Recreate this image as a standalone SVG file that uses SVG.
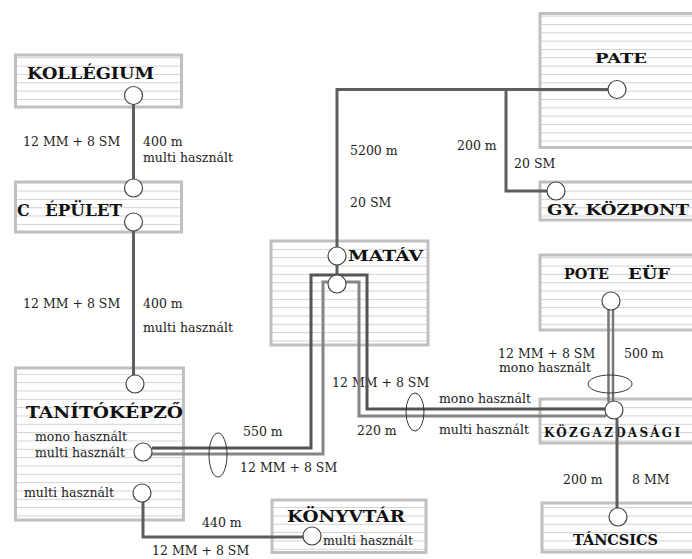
<svg xmlns="http://www.w3.org/2000/svg" width="692" height="559" viewBox="0 0 692 559">
<style>
.box{fill:url(#stripes);stroke:#c0c0c0;stroke-width:3}
.title{font-family:"DejaVu Serif","Liberation Serif",serif;font-weight:bold;fill:#111}
.lbl{font-family:"DejaVu Serif","Liberation Serif",serif;font-size:12.5px;fill:#222}
.c1{fill:none;stroke:#5e5e5e;stroke-width:3}
.outer{fill:none;stroke:#555;stroke-width:3}
.inner{fill:none;stroke:#858585;stroke-width:3}
.dbl{fill:none;stroke:#777;stroke-width:2.5}
.ell{fill:none;stroke:#333;stroke-width:1}
.port{fill:#fff;stroke:#444;stroke-width:1.2}
</style>
<defs>
<pattern id="stripes" patternUnits="userSpaceOnUse" x="0" y="7.3" width="10" height="8.33">
<rect width="10" height="8.33" fill="#fff"/>
<line x1="0" y1="0.5" x2="10" y2="0.5" stroke="#d2d2d2" stroke-width="1"/>
</pattern>
</defs>
<rect width="692" height="559" fill="#fff"/>

<g id="kollegium">
<rect class="box" x="15.5" y="55" width="166" height="52"/>
<text class="title" x="27" y="79" font-size="16" textLength="127" lengthAdjust="spacingAndGlyphs">KOLLÉGIUM</text>
</g>
<g id="c-epulet">
<rect class="box" x="15.5" y="182" width="166" height="50"/>
<text class="title" x="17" y="215.5" font-size="16">C</text>
<text class="title" x="45" y="215.5" font-size="16" textLength="77" lengthAdjust="spacingAndGlyphs">ÉPÜLET</text>
</g>
<g id="tanitokepzo">
<rect class="box" x="15.5" y="368" width="168" height="152"/>
<text class="title" x="26" y="418" font-size="16" textLength="157" lengthAdjust="spacingAndGlyphs">TANÍTÓKÉPZŐ</text>
<text class="lbl" x="35" y="441">mono használt</text>
<text class="lbl" x="35" y="457">multi használt</text>
<text class="lbl" x="24" y="497">multi használt</text>
</g>
<g id="matav">
<rect class="box" x="271" y="241" width="157" height="104"/>
<text class="title" x="348" y="261" font-size="15" textLength="75" lengthAdjust="spacingAndGlyphs">MATÁV</text>
</g>
<g id="pate">
<rect class="box" x="540" y="13.5" width="160" height="134"/>
<text class="title" x="595" y="63" font-size="13" textLength="52" lengthAdjust="spacingAndGlyphs">PATE</text>
</g>
<g id="gy-kozpont">
<rect class="box" x="540" y="182" width="160" height="38"/>
<text class="title" x="547" y="215" font-size="14" textLength="142" lengthAdjust="spacingAndGlyphs">GY. KÖZPONT</text>
</g>
<g id="pote-euf">
<rect class="box" x="540" y="255" width="160" height="75"/>
<text class="title" x="564" y="279" font-size="14" textLength="45" lengthAdjust="spacingAndGlyphs">POTE</text>
<text class="title" x="628" y="279" font-size="14" textLength="42" lengthAdjust="spacingAndGlyphs">EÜF</text>
</g>
<g id="kozgazdasagi">
<rect class="box" x="540" y="399" width="160" height="44"/>
<text class="title" x="544" y="437" font-size="12" textLength="136">KÖZGAZDASÁGI</text>
</g>
<g id="konyvtar">
<rect class="box" x="272" y="500" width="154" height="52.5"/>
<text class="title" x="287" y="522" font-size="16" textLength="118" lengthAdjust="spacingAndGlyphs">KÖNYVTÁR</text>
<text class="lbl" x="323" y="545">multi használt</text>
</g>
<g id="tancsics">
<rect class="box" x="542" y="503" width="160" height="49"/>
<text class="title" x="573" y="545" font-size="14" textLength="85" lengthAdjust="spacingAndGlyphs">TÁNCSICS</text>
</g>

<g id="connectors">
<g id="connector-labels">
<text class="lbl" x="23" y="146">12 MM + 8 SM</text>
<text class="lbl" x="143" y="146">400 m</text>
<text class="lbl" x="143" y="162">multi használt</text>
<text class="lbl" x="23" y="308">12 MM + 8 SM</text>
<text class="lbl" x="143" y="308">400 m</text>
<text class="lbl" x="143" y="332">multi használt</text>
<text class="lbl" x="350" y="155">5200 m</text>
<text class="lbl" x="350" y="207">20 SM</text>
<text class="lbl" x="457" y="150">200 m</text>
<text class="lbl" x="514" y="168">20 SM</text>
<text class="lbl" x="498" y="358">12 MM + 8 SM</text>
<text class="lbl" x="499" y="372">mono használt</text>
<text class="lbl" x="624" y="358">500 m</text>
<text class="lbl" x="332" y="387">12 MM + 8 SM</text>
<text class="lbl" x="439" y="403">mono használt</text>
<text class="lbl" x="357" y="435">220 m</text>
<text class="lbl" x="439" y="434">multi használt</text>
<text class="lbl" x="243" y="436">550 m</text>
<text class="lbl" x="240" y="472">12 MM + 8 SM</text>
<text class="lbl" x="202" y="527">440 m</text>
<text class="lbl" x="152" y="555">12 MM + 8 SM</text>
<text class="lbl" x="563" y="484">200 m</text>
<text class="lbl" x="632" y="484">8 MM</text>
</g>
<path class="c1" d="M133.5,104 V179"/>
<path class="c1" d="M133.5,231 V375"/>
<path class="c1" d="M143,502 V537 H303"/>
<path class="c1" d="M337,247 V89.5 H608"/>
<path class="c1" d="M506,89.5 V191 H547"/>
<path class="c1" d="M337,265 V275"/>
<path class="c1" d="M617,419 V508"/>
<path class="outer" d="M152,448 H311 V275 H367 V409 H606"/>
<path class="inner" d="M152,454 H323 V282 H359 V416 H606"/>
<path class="dbl" d="M608.5,310 V402"/>
<path class="dbl" d="M613,310 V402"/>
<ellipse class="ell" cx="218" cy="455" rx="9" ry="22"/>
<ellipse class="ell" cx="415" cy="412" rx="9" ry="19"/>
<ellipse class="ell" cx="610" cy="384" rx="22" ry="9"/>
</g>

<g id="ports">
<circle id="p-kollegium" class="port" cx="133.5" cy="95.5" r="9"/>
<circle id="p-cepulet-1" class="port" cx="133.5" cy="188" r="9"/>
<circle id="p-cepulet-2" class="port" cx="133.5" cy="222" r="9"/>
<circle id="p-tanito-1" class="port" cx="135" cy="384" r="9"/>
<circle id="p-tanito-2" class="port" cx="143" cy="452" r="9"/>
<circle id="p-tanito-3" class="port" cx="142" cy="493" r="9"/>
<circle id="p-matav-1" class="port" cx="337" cy="256" r="9"/>
<circle id="p-matav-2" class="port" cx="337" cy="284" r="9"/>
<circle id="p-pate" class="port" cx="617" cy="89.5" r="9"/>
<circle id="p-gy" class="port" cx="556" cy="191" r="9"/>
<circle id="p-pote" class="port" cx="611" cy="301" r="9"/>
<circle id="p-kozg" class="port" cx="614" cy="410" r="9"/>
<circle id="p-tancsics" class="port" cx="618" cy="517" r="9"/>
<circle id="p-konyvtar" class="port" cx="312" cy="536" r="9"/>
</g>
</svg>
